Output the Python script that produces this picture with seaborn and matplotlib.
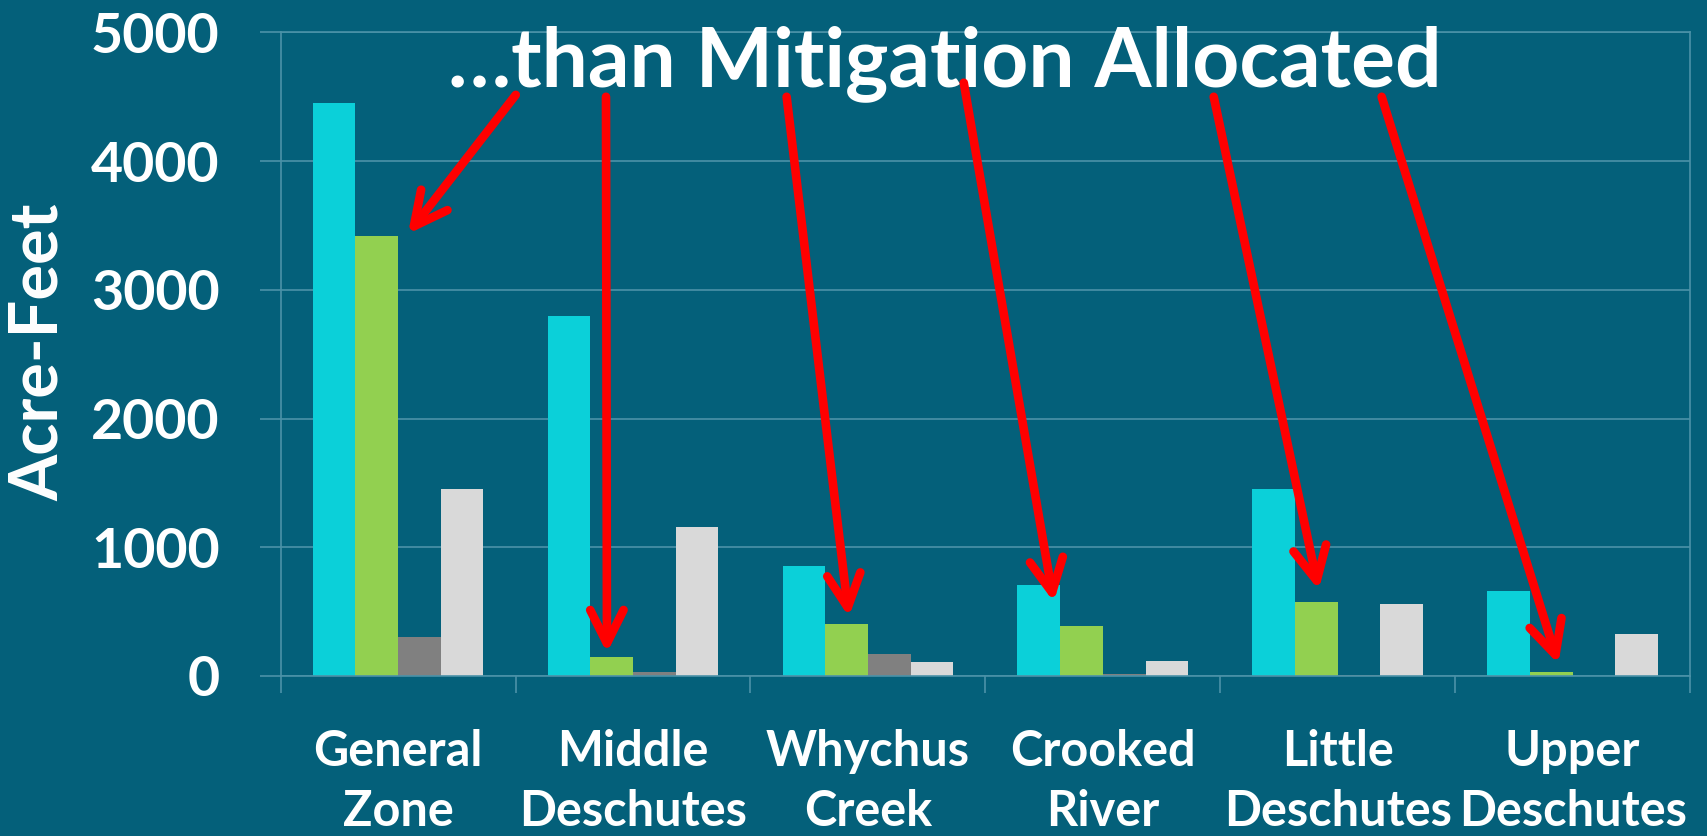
import matplotlib
matplotlib.use('Agg')
import matplotlib.pyplot as plt
import seaborn as sns
import pandas as pd

# values (acre-feet)
zones = ['General\nZone', 'Middle\nDeschutes', 'Whychus\nCreek', 'Crooked\nRiver',
         'Little\nDeschutes', 'Upper\nDeschutes']
series = ['Series 1', 'Series 2', 'Series 3', 'Series 4']
cyan_vals = [4450, 2800, 855, 705, 1455, 663]
green_vals = [3420, 148, 406, 386, 575, 29]
gray_vals = [305, 29, 168, 18, 8, 0]
light_vals = [1450, 1160, 106, 117, 557, 326]
yticks = [0, 1000, 2000, 3000, 4000, 5000]
title = '…than Mitigation Allocated'
ylabel = 'Acre-Feet'

bg = '#04607a'
gridc = '#4b92a8'
colors = ['#0bd0d9', '#92d050', '#808080', '#d9d9d9']

plt.rcParams['font.family'] = ['Lato', 'DejaVu Sans']
plt.rcParams['font.weight'] = 'bold'

df = pd.DataFrame({
    'zone': zones * 4,
    'series': [s for s in series for _ in zones],
    'acre_feet': cyan_vals + green_vals + gray_vals + light_vals,
})

fig = plt.figure(figsize=(17.07, 8.36), dpi=100, facecolor=bg)
ax = fig.add_axes([0.1644, 0.1914, 0.8257, 0.7700])
ax.set_facecolor(bg)

sns.barplot(data=df, x='zone', y='acre_feet', hue='series', palette=colors,
            width=0.727, gap=0, saturation=1, legend=False, linewidth=0, ax=ax)

ax.set_xlim(-0.5, 5.5)
ax.set_ylim(0, 5000)
ax.set_yticks(yticks)
ax.yaxis.grid(True, color=gridc, lw=1.2)
ax.set_axisbelow(True)
for sp in ax.spines.values():
    sp.set_color(gridc)
    sp.set_linewidth(1.2)

ax.tick_params(axis='y', length=15, width=1.2, color=gridc, pad=29,
               labelsize=40, labelcolor='white')
ax.set_xticks(range(len(zones)))
ax.set_xticklabels(zones, linespacing=1.4)
ax.tick_params(axis='x', which='major', length=0, pad=38, labelsize=35, labelcolor='white')
ax.set_xticks([i - 0.5 for i in range(len(zones) + 1)], minor=True)
ax.tick_params(axis='x', which='minor', length=12.5, width=1.2, color=gridc)
ax.set_xlabel('')
ax.set_ylabel('')

fig.text(39 / 1707, 0.579, ylabel, rotation=90, ha='center', va='center',
         fontsize=48, color='white', weight='bold')

ax.text(2.327, 4584, title, ha='center', va='baseline', fontsize=59,
        color='white', weight='bold', clip_on=False)

# red arrows from the title down to the green bars
tail_x = [0.501, 0.885, 1.654, 2.408, 3.472, 4.187]
tail_y = [4514, 4499, 4499, 4608, 4499, 4499]
tip_dx = [0.133, -0.02, 0.01, -0.118, 0.01, 0.03]
tip_pad = [14, 31, 52, 189, 93, 64]
green_bars = ax.containers[1]
for bar, tx, ty, dx, pad in zip(green_bars, tail_x, tail_y, tip_dx, tip_pad):
    bx = bar.get_x() + bar.get_width() / 2 + dx
    by = bar.get_height() + pad
    ax.annotate('', xy=(bx, by), xytext=(tx, ty),
                arrowprops=dict(arrowstyle='->, head_length=1.2, head_width=0.6',
                                color='#ff0000', lw=6.2, mutation_scale=20,
                                shrinkA=0, shrinkB=0, capstyle='round',
                                joinstyle='round'))

fig.savefig('out.png', dpi=100, facecolor=bg)
